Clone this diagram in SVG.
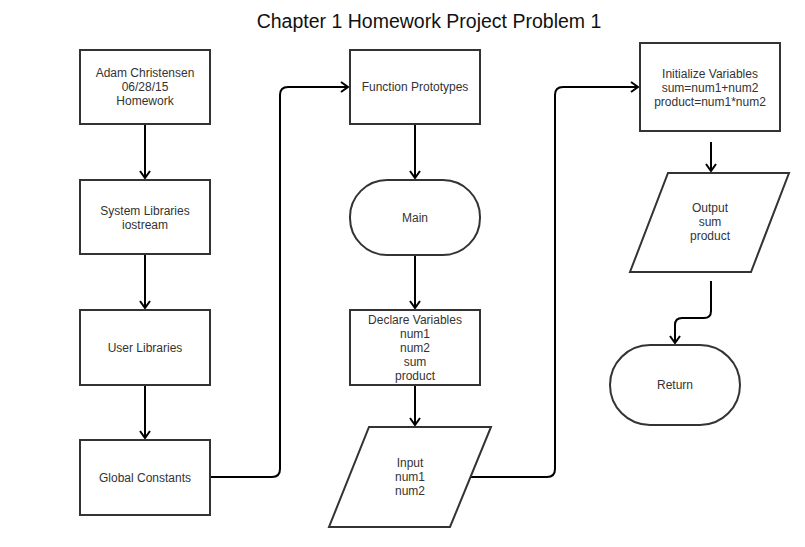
<svg xmlns="http://www.w3.org/2000/svg" width="805" height="547" viewBox="0 0 805 547">
<defs>
<marker id="arr" viewBox="-10 -6 12 12" refX="0" refY="0" markerWidth="12" markerHeight="12" markerUnits="userSpaceOnUse" orient="auto">
<path d="M-7,-5 L0,0 L-7,5" fill="none" stroke="#000" stroke-width="2"/>
</marker>
</defs>
<style>
.n{fill:#fff;stroke:#333;stroke-width:2}
.t{font-family:"Liberation Sans",Arial,sans-serif;font-size:12px;fill:#333;text-anchor:middle}
.c{fill:none;stroke:#000;stroke-width:2;marker-end:url(#arr)}
</style>
<rect width="805" height="547" fill="#fff"/>
<text x="429" y="28" style="font-family:'Liberation Sans',Arial,sans-serif;font-size:19.5px;fill:#111;text-anchor:middle">Chapter 1 Homework Project Problem 1</text>
<g id="connectors">
<path class="c" d="M145,124 L145,178"/>
<path class="c" d="M145,254 L145,308"/>
<path class="c" d="M145,385 L145,438"/>
<path class="c" d="M210,477 L272,477 Q280,477 280,469 L280,95 Q280,87 288,87 L348,87"/>
<path class="c" d="M415,124 L415,178"/>
<path class="c" d="M415,255 L415,308"/>
<path class="c" d="M415,385 L415,425"/>
<path class="c" d="M470,477 L547,477 Q555,477 555,469 L555,95 Q555,87 563,87 L638,87"/>
<path class="c" d="M711,142 L711,171"/>
<path class="c" d="M711,281 L711,311 Q711,318 704,318 L682,318 Q675,318 675,325 L675,343"/>
</g>
<g id="n1"><rect class="n" x="80" y="50" width="130" height="74"/>
<text class="t" x="145" y="77">Adam Christensen</text><text class="t" x="145" y="91">06/28/15</text><text class="t" x="145" y="105">Homework</text></g>
<g id="n2"><rect class="n" x="80" y="180" width="130" height="74"/>
<text class="t" x="145" y="215">System Libraries</text><text class="t" x="145" y="229">iostream</text></g>
<g id="n3"><rect class="n" x="80" y="310" width="130" height="75"/>
<text class="t" x="145" y="352">User Libraries</text></g>
<g id="n4"><rect class="n" x="80" y="440" width="130" height="75"/>
<text class="t" x="145" y="482">Global Constants</text></g>
<g id="n5"><rect class="n" x="350" y="50" width="130" height="74"/>
<text class="t" x="415" y="91">Function Prototypes</text></g>
<g id="n6"><rect class="n" x="350" y="180" width="130" height="75" rx="37" ry="37"/>
<text class="t" x="415" y="222">Main</text></g>
<g id="n7"><rect class="n" x="350" y="310" width="130" height="75"/>
<text class="t" x="415" y="324">Declare Variables</text><text class="t" x="415" y="338">num1</text><text class="t" x="415" y="352">num2</text><text class="t" x="415" y="366">sum</text><text class="t" x="415" y="380">product</text></g>
<g id="n8"><polygon class="n" points="369,427 491,427 450,527 329,527"/>
<text class="t" x="410" y="467">Input</text><text class="t" x="410" y="481">num1</text><text class="t" x="410" y="495">num2</text></g>
<g id="n9"><rect class="n" x="640" y="43" width="140" height="88"/>
<text class="t" x="710" y="78">Initialize Variables</text><text class="t" x="710" y="92">sum=num1+num2</text><text class="t" x="710" y="106">product=num1*num2</text></g>
<g id="n10"><polygon class="n" points="668,173 789,173 751,272 630,272"/>
<text class="t" x="710" y="212">Output</text><text class="t" x="710" y="226">sum</text><text class="t" x="710" y="240">product</text></g>
<g id="n11"><rect class="n" x="610" y="345" width="130" height="80" rx="40" ry="40"/>
<text class="t" x="675" y="389">Return</text></g>
</svg>
